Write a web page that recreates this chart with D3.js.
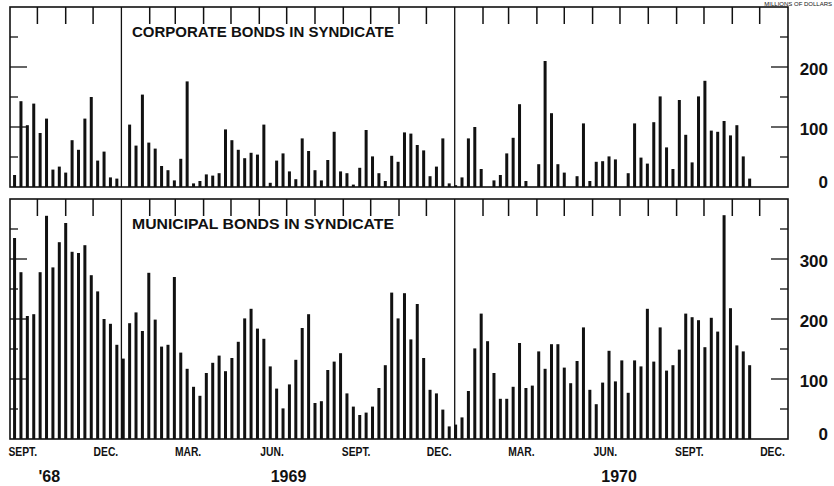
<!doctype html>
<html>
<head>
<meta charset="utf-8">
<style>
  body { margin: 0; background: #fff; }
  text { font-family: "Liberation Sans", Arial, sans-serif; fill: #111; }
</style>
<script src="https://d3js.org/d3.v7.min.js"></script>
</head>
<body>
<svg width="834" height="486"></svg>
<script>
// weekly values, millions of dollars (Sept 1968 - Nov 1970)
var corporate = [
  20, 143, 103, 139, 90, 114, 29, 34, 24, 78, 62, 114, 150, 44, 59, 16, 14,
  0, 104, 69, 154, 74, 64, 35, 28, 11, 47, 176, 6, 10, 21, 19, 23, 96, 78, 62, 48, 57, 54, 104, 7, 44,
  56, 26, 13, 81, 60, 28, 11, 45, 92, 26, 23, 4, 32, 95, 51, 23, 10, 52, 42, 91, 89, 70, 61, 18, 34, 81, 6,
  3, 16, 81, 100, 30, 0, 11, 20, 56, 82, 138, 10, 0, 38, 210,
  123, 38, 24, 0, 18, 106, 10, 42, 43, 51, 46, 0, 23, 106, 49, 39, 108, 151, 66, 30, 145, 87, 41,
  151, 177, 94, 92, 110, 86, 103, 51, 14
];
var municipal = [
  335, 278, 205, 208, 278, 372, 286, 328, 360, 312, 310, 323, 273, 246, 200, 192, 157,
  134, 193, 211, 180, 277, 199, 154, 157, 270, 144, 117, 87, 72, 110, 127, 139, 113, 135, 162, 201, 217, 184, 167, 121, 84,
  51, 91, 132, 185, 208, 60, 63, 115, 129, 143, 76, 54, 40, 44, 54, 85, 123, 244, 201, 243, 166, 225, 135, 82, 76, 49, 21,
  24, 36, 80, 151, 209, 163, 110, 67, 67, 87, 160, 85, 89, 146, 117,
  158, 158, 119, 93, 130, 186, 82, 58, 94, 147, 96, 131, 77, 131, 121, 217, 129, 186, 114, 123, 149, 209, 203,
  198, 153, 202, 179, 373, 218, 156, 146, 123
];
var weeks = d3.timeFriday.range(new Date(1968, 8, 6), new Date(1970, 10, 21));

var monthLabels = ["SEPT.", "DEC.", "MAR.", "JUN.", "SEPT.", "DEC.", "MAR.", "JUN.", "SEPT.", "DEC."];
var monthLabelDates = [
  new Date(1968, 8, 15), new Date(1968, 11, 15), new Date(1969, 2, 15), new Date(1969, 5, 15),
  new Date(1969, 8, 15), new Date(1969, 11, 15), new Date(1970, 2, 15), new Date(1970, 5, 15),
  new Date(1970, 8, 15), new Date(1970, 11, 15)
];
var yearLabels = ["'68", "1969", "1970"];
var yearLabelDates = [new Date(1968, 9, 14), new Date(1969, 6, 3), new Date(1970, 5, 30)];

var corpTicks = [0, 100, 200];
var muniTicks = [0, 100, 200, 300];

var svg = d3.select("svg");
var left = 10, right = 788;

var x = d3.scaleTime()
    .domain([new Date(1968, 8, 1), new Date(1971, 0, 1)])
    .range([left, right]);

function panel(values, top, bottom, maxVal, labelTicks, title) {
    var y = d3.scaleLinear().domain([0, maxVal]).range([bottom, top]);
    var g = svg.append("g");

    // bars
    g.selectAll(".bar")
     .data(values)
     .enter().append("rect")
     .attr("x", function(d, i) { return x(weeks[i]) - 1.5; })
     .attr("y", function(d) { return y(d); })
     .attr("width", 3)
     .attr("height", function(d) { return bottom - y(d); })
     .attr("fill", "#111");

    // frame
    g.append("rect")
     .attr("x", left).attr("y", top)
     .attr("width", right - left).attr("height", bottom - top)
     .attr("fill", "none").attr("stroke", "#111").attr("stroke-width", 1.6);

    // year dividers
    [new Date(1969, 0, 1), new Date(1970, 0, 1)].forEach(function(d) {
        g.append("line")
         .attr("x1", x(d)).attr("x2", x(d))
         .attr("y1", top).attr("y2", bottom)
         .attr("stroke", "#111").attr("stroke-width", 1.3);
    });

    // month ticks along the top
    var months = d3.timeMonth.range(new Date(1968, 9, 1), new Date(1971, 0, 1))
        .filter(function(d) { return d.getMonth() !== 0; });
    g.selectAll(".mtick")
     .data(months)
     .enter().append("line")
     .attr("x1", function(d) { return x(d); })
     .attr("x2", function(d) { return x(d); })
     .attr("y1", top).attr("y2", top + 17)
     .attr("stroke", "#111").attr("stroke-width", 1.5);

    // value ticks, inward on both sides
    var vt = d3.range(50, maxVal, 50);
    vt.forEach(function(v) {
        var len = v % 100 === 0 ? 17 : 8;
        g.append("line")
         .attr("x1", left).attr("x2", left + len)
         .attr("y1", y(v)).attr("y2", y(v))
         .attr("stroke", "#111").attr("stroke-width", 1.3);
        g.append("line")
         .attr("x1", right - len).attr("x2", right)
         .attr("y1", y(v)).attr("y2", y(v))
         .attr("stroke", "#111").attr("stroke-width", 1.3);
    });

    // value labels at the right
    g.selectAll(".vlab")
     .data(labelTicks)
     .enter().append("text")
     .attr("x", 828)
     .attr("y", function(d) { return d === 0 ? y(d) - 5 : y(d) + 2; })
     .attr("dy", "0.36em")
     .attr("text-anchor", "end")
     .attr("font-size", "17px")
     .attr("font-weight", "bold")
     .text(function(d) { return d; });

    g.append("text")
     .attr("x", 132)
     .attr("y", top + 30)
     .attr("font-size", "15px")
     .attr("font-weight", "bold")
     .attr("textLength", 262)
     .attr("lengthAdjust", "spacingAndGlyphs")
     .text(title);
}

panel(corporate, 7, 187, 300, corpTicks, "CORPORATE BONDS IN SYNDICATE");
panel(municipal, 199, 439, 400, muniTicks, "MUNICIPAL BONDS IN SYNDICATE");

// month and year labels
svg.selectAll(".mlab")
   .data(monthLabels)
   .enter().append("text")
   .attr("transform", function(d, i) {
       return "translate(" + x(monthLabelDates[i]) + ",456) scale(0.86,1)";
   })
   .attr("text-anchor", "middle")
   .attr("font-size", "12px")
   .attr("font-weight", "bold")
   .text(function(d) { return d; });

svg.selectAll(".ylab")
   .data(yearLabels)
   .enter().append("text")
   .attr("x", function(d, i) { return x(yearLabelDates[i]); })
   .attr("y", 482)
   .attr("text-anchor", "middle")
   .attr("font-size", "16px")
   .attr("font-weight", "bold")
   .text(function(d) { return d; });

// units note in the top right corner
svg.append("text")
   .attr("x", 832)
   .attr("y", 6)
   .attr("text-anchor", "end")
   .attr("font-size", "6px")
   .attr("fill", "#555")
   .text("MILLIONS OF DOLLARS");
</script>
</body>
</html>
